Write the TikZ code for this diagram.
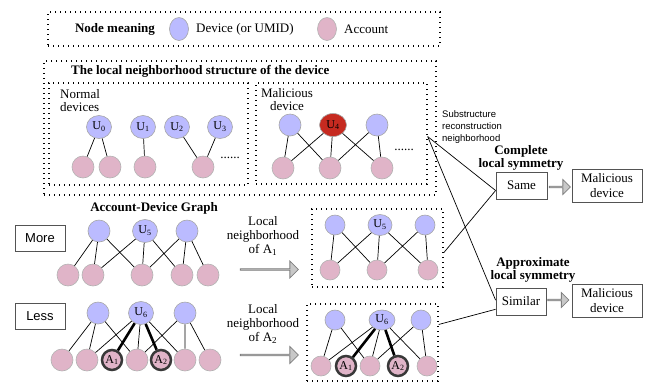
\documentclass[tikz,border=0pt]{standalone}
\usepackage{fontspec}
\setmainfont{Liberation Serif}
\setsansfont{Liberation Sans}
\usetikzlibrary{shapes.arrows,shapes.geometric,calc}
\definecolor{devc}{HTML}{BBBBFF}
\definecolor{accc}{HTML}{E0B4C8}
\definecolor{redc}{HTML}{C62A20}
\definecolor{arrc}{HTML}{C8C8C8}
\tikzset{
 dev/.style={circle, draw=gray!70, line width=0.6pt, fill=devc, minimum size=22pt, inner sep=0pt},
 acc/.style={circle, draw=gray!60, line width=0.6pt, fill=accc, minimum size=22pt, inner sep=0pt},
 sdev/.style={dev, minimum size=20pt},
 sacc/.style={acc, minimum size=20pt},
 udev/.style={ellipse, draw=gray!70, line width=0.6pt, fill=devc, minimum width=25pt, minimum height=23pt, inner sep=0pt, font=\fontsize{12}{12}\selectfont},
 rdev/.style={udev, fill=redc, minimum width=27pt},
 hacc/.style={circle, draw=gray!45!black, line width=2.5pt, fill=accc, minimum size=20pt, inner sep=0pt, font=\fontsize{12}{12}\selectfont},
 lnk/.style={line width=0.7pt},
 tlnk/.style={line width=2.6pt},
 dotbox/.style={draw, line width=1.4pt, dash pattern=on 1.4pt off 3.6pt, inner sep=0pt},
 pbox/.style={draw=gray!65!black, line width=0.8pt, fill=white, inner sep=2pt, align=center},
 garrow/.style={single arrow, draw=gray, fill=arrc, line width=0.8pt, inner sep=0pt, single arrow head extend=4pt, minimum width=17pt, minimum height=58pt},
 sarrow/.style={garrow, single arrow head extend=3.5pt, minimum width=15pt, minimum height=21pt},
 txt/.style={inner sep=0pt, align=center},
 btxt/.style={txt, font=\fontsize{13}{13}\selectfont\bfseries},
}
\begin{document}
\begin{tikzpicture}[x=1pt,y=-1pt, every node/.style={font=\fontsize{13}{14}\selectfont}]
\useasboundingbox (0,0) rectangle (651,384);

% legend
\node[dotbox, minimum width=392pt, minimum height=34pt] (legend) at (244,29) {};
\node[btxt] (lgt) at (115,29) {Node meaning};
\node[ellipse, draw=gray!70, line width=0.6pt, fill=devc, minimum width=19pt, minimum height=23pt, inner sep=0pt] (lgd) at (179,29) {};
\node[txt, anchor=west] (lgdt) at (196,29) {Device (or UMID)};
\node[ellipse, draw=gray!60, line width=0.6pt, fill=accc, minimum width=19pt, minimum height=23pt, inner sep=0pt] (lga) at (327,29) {};
\node[txt, anchor=west] (lgat) at (344,29) {Account};

% local neighborhood structure
\node[dotbox, minimum width=392pt, minimum height=134pt] (outer) at (240,128) {};
\node[btxt, anchor=west] (outt) at (71,71) {The local neighborhood structure of the device};
\node[dotbox, minimum width=199pt, minimum height=102pt] (nbox) at (148.5,134) {};
\node[dotbox, minimum width=171pt, minimum height=101pt] (mbox) at (341.5,133.5) {};
\node[txt, align=left, anchor=north west, font=\fontsize{13}{13}\selectfont] (ntxt) at (60,89) {Normal\\devices};
\node[txt, anchor=north, font=\fontsize{13}{13}\selectfont] (mtxt) at (287,88) {Malicious\\device};

\node[udev] (u0) at (99,127) {U\textsubscript{0}};
\node[udev] (u1) at (143,127) {U\textsubscript{1}};
\node[udev] (u2) at (177,127) {U\textsubscript{2}};
\node[udev] (u3) at (220,127) {U\textsubscript{3}};
\node[acc] (na1) at (83,167) {};
\node[acc] (na2) at (110,167) {};
\node[acc] (na3) at (145,167) {};
\node[acc] (na4) at (203,167) {};
\draw[lnk] (u0) -- (na1) (u0) -- (na2) (u1) -- (na3) (u2) -- (na4) (u3) -- (na4);
\node[txt] (ndots) at (230,158) {......};

\node[dev] (md1) at (290,125) {};
\node[rdev] (u4) at (333,125) {U\textsubscript{4}};
\node[dev] (md3) at (377,125) {};
\node[acc] (ma1) at (283,168) {};
\node[acc] (ma2) at (330,168) {};
\node[acc] (ma3) at (382,168) {};
\draw[lnk] (md1) -- (ma1) (md1) -- (ma2) (u4) -- (ma1) (u4) -- (ma2) (u4) -- (ma3) (md3) -- (ma2) (md3) -- (ma3);
\node[txt] (mdots) at (404,150) {......};

\node[txt, align=left, anchor=north west, font=\sffamily\fontsize{9.5}{12}\selectfont] (subs) at (442,110) {Substructure\\reconstruction\\neighborhood};
\coordinate (apex) at ($(mbox.north east)!0.53!(mbox.south east)$);

% account-device graph
\node[btxt] (adg) at (154,208) {Account-Device Graph};
\node[pbox, font=\sffamily\fontsize{13}{13}\selectfont, minimum width=50pt, minimum height=26pt] (more) at (40,238) {More};
\node[pbox, font=\sffamily\fontsize{13}{13}\selectfont, minimum width=50pt, minimum height=26pt] (less) at (40,316) {Less};

\node[dev] (g1) at (99,231) {};
\node[udev] (u5) at (145,231) {U\textsubscript{5}};
\node[dev] (g3) at (187,231) {};
\node[acc] (ga1) at (68,275) {};
\node[acc] (ga2) at (93,275) {};
\node[acc] (ga3) at (142,275) {};
\node[acc] (ga4) at (182,275) {};
\node[acc] (ga5) at (208,275) {};
\draw[lnk] (g1) -- (ga1) (g1) -- (ga2) (g1) -- (ga3) (u5) -- (ga2) (u5) -- (ga3) (u5) -- (ga4) (g3) -- (ga3) (g3) -- (ga4) (g3) -- (ga5);

\node[dev] (h1) at (98,313) {};
\node[udev] (u6) at (141,313) {U\textsubscript{6}};
\node[dev] (h3) at (185,313) {};
\node[acc] (ha1) at (62,360) {};
\node[acc] (ha2) at (87,360) {};
\node[hacc] (hA1) at (112,360) {A\textsubscript{1}};
\node[acc] (ha4) at (137,360) {};
\node[hacc] (hA2) at (161,360) {A\textsubscript{2}};
\node[acc] (ha6) at (185,360) {};
\node[acc] (ha7) at (210,360) {};
\draw[lnk] (h1) -- (ha1) (h1) -- (ha2) (h1) -- (ha4) (u6) -- (ha2) (u6) -- (ha4) (u6) -- (ha6) (h3) -- (ha4) (h3) -- (ha6) (h3) -- (ha7);
\draw[tlnk] (u6) -- (hA1) (u6) -- (hA2);

% arrows with labels
\node[txt, font=\fontsize{13}{14}\selectfont] (l1) at (263,236) {Local\\neighborhood\\of A\textsubscript{1}};
\node[garrow] (ar1) at (269,269.5) {};
\node[txt, font=\fontsize{13}{14}\selectfont] (l2) at (263,324) {Local\\neighborhood\\of A\textsubscript{2}};
\node[garrow] (ar2) at (269,355) {};

% local neighborhood of A1
\node[dotbox, minimum width=131pt, minimum height=78pt] (b5) at (377.5,248) {};
\node[sdev] (p1) at (335,225) {};
\node[udev, minimum width=24pt, minimum height=21pt] (u5b) at (380,225) {U\textsubscript{5}};
\node[sdev] (p3) at (425,225) {};
\node[sacc] (pa1) at (330,270) {};
\node[sacc] (pa2) at (377,270) {};
\node[sacc] (pa3) at (428,270) {};
\draw[lnk] (p1) -- (pa1) (p1) -- (pa2) (u5b) -- (pa1) (u5b) -- (pa2) (u5b) -- (pa3) (p3) -- (pa2) (p3) -- (pa3);

% local neighborhood of A2
\node[dotbox, minimum width=131pt, minimum height=77pt] (b6) at (372.5,342.5) {};
\node[sdev] (q1) at (335,320) {};
\node[udev, minimum width=26pt, minimum height=20pt] (u6b) at (382,320) {U\textsubscript{6}};
\node[sdev] (q3) at (421,320) {};
\node[sacc] (qa1) at (321,366) {};
\node[hacc] (qA1) at (346,366) {A\textsubscript{1}};
\node[sacc] (qa3) at (370,366) {};
\node[hacc] (qA2) at (398,366) {A\textsubscript{2}};
\node[sacc] (qa5) at (427,366) {};
\draw[lnk] (q1) -- (qa1) (q1) -- (qa3) (u6b) -- (qa1) (u6b) -- (qa3) (u6b) -- (qa5) (q3) -- (qa3) (q3) -- (qa5);
\draw[tlnk] (u6b) -- (qA1) (u6b) -- (qA2);

% decisions
\node[btxt, font=\fontsize{13}{13}\selectfont\bfseries] (cls) at (521,157.5) {Complete\\local symmetry};
\node[pbox, minimum width=51pt, minimum height=27pt] (same) at (521.5,185.5) {Same};
\node[sarrow] (sar1) at (559.5,187) {};
\node[pbox, minimum width=70pt, minimum height=33pt, font=\fontsize{13}{15}\selectfont] (mal1) at (607,185.5) {Malicious\\device};

\node[btxt, font=\fontsize{13}{13}\selectfont\bfseries] (als) at (533,270) {Approximate\\local symmetry};
\node[pbox, minimum width=50pt, minimum height=27pt] (similar) at (521,301.5) {Similar};
\node[sarrow] (sar2) at (558,300) {};
\node[pbox, minimum width=70pt, minimum height=33pt, font=\fontsize{13}{15}\selectfont] (mal2) at (607,300.5) {Malicious\\device};

% connectors
\coordinate (samein) at ($(same.north west)!0.68!(same.south west)$);
\coordinate (simin) at ($(similar.north west)!0.45!(similar.south west)$);
\coordinate (simin2) at ($(similar.north west)!0.78!(similar.south west)$);
\coordinate (b5out) at ($(b5.north east)!0.56!(b5.south east)$);
\coordinate (b6out) at ($(b6.north east)!0.27!(b6.south east)$);
\draw[lnk] (apex) -- (samein);
\draw[lnk] (apex) -- (simin);
\draw[lnk] (b5out) -- (samein);
\draw[lnk] (b6out) -- (simin2);
\end{tikzpicture}
\end{document}
